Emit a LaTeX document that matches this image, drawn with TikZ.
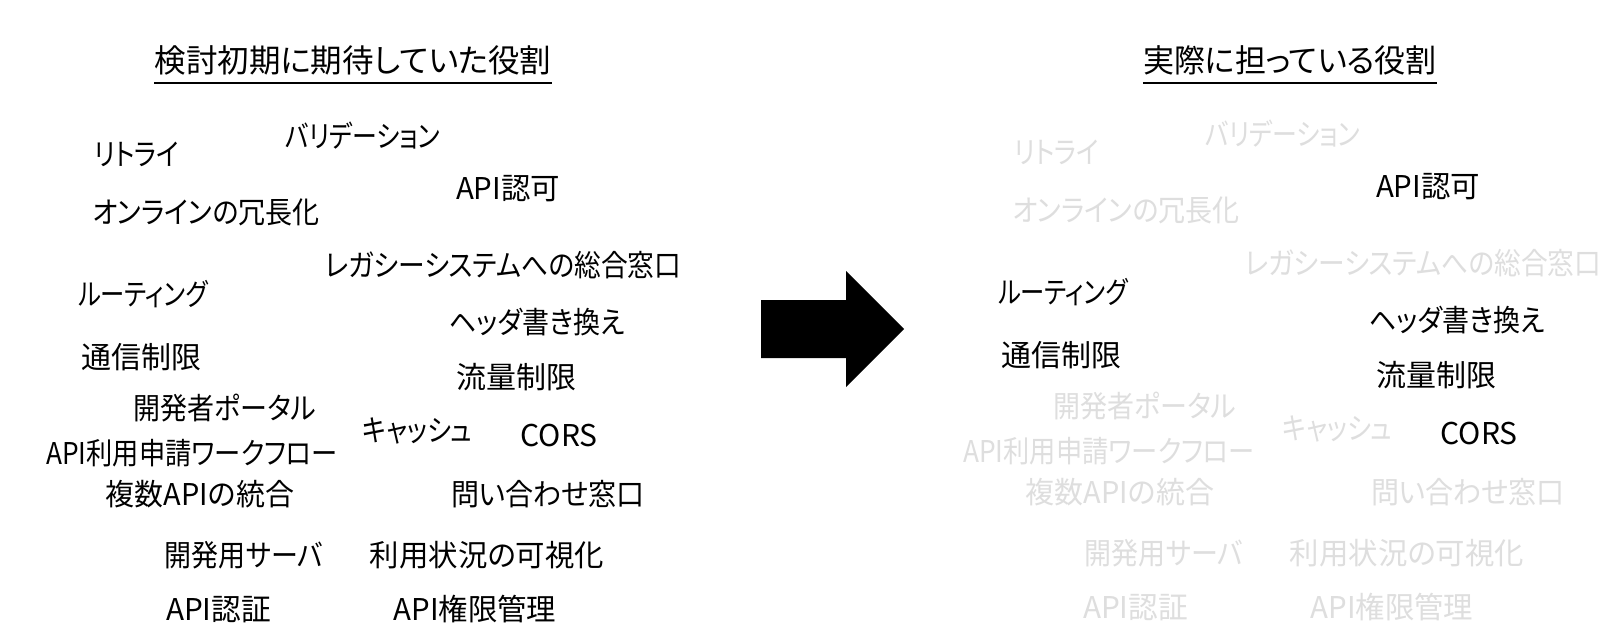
\documentclass[tikz,border=0pt]{standalone}
\usepackage{graphicx}
\usepackage{fontspec}
\setmainfont{Noto Sans CJK JP}[RawFeature=+palt]
\definecolor{dimgray}{gray}{0.87}
\newcommand\hsq[2]{\scalebox{#1}[1]{#2}}
\begin{document}
\begin{tikzpicture}[x=1pt,y=-1pt,
  lbl/.style={inner sep=0pt,anchor=center,font=\fontsize{30}{36}\selectfont},
  faint/.style={lbl,text=dimgray},
  ttl/.style={inner sep=0pt,anchor=center,font=\fontsize{32}{38}\selectfont}]
\useasboundingbox[fill=white] (0,0) rectangle (1609,638);
% titles
\node[ttl] (t1) at (353,60) {\hsq{0.985}{検討初期に期待していた役割}};
\node[ttl] (t2) at (1290,60) {\hsq{0.97}{実際に担っている役割}};
\draw[line width=2pt] (t1.west |- 0,83) -- (t1.east |- 0,83);
\draw[line width=2pt] (t2.west |- 0,83) -- (t2.east |- 0,83);
% left
\node[lbl] (l1) at (136.5,154) {\hsq{0.85}{リトライ}};
\node[lbl] (l2) at (363,135.5) {\hsq{0.83}{バリデーション}};
\node[lbl] (l3) at (508,189) {\hsq{0.98}{API認可}};
\node[lbl] (l4) at (206,212) {\hsq{0.90}{オンラインの冗長化}};
\node[lbl] (l5) at (503,265) {\hsq{0.89}{レガシーシステムへの総合窓口}};
\node[lbl] (l6) at (143,294.5) {\hsq{0.81}{ルーティング}};
\node[lbl] (l7) at (537,322) {\hsq{0.90}{ヘッダ書き換え}};
\node[lbl] (l8) at (141.5,357) {通信制限};
\node[lbl] (l9) at (516,377.5) {流量制限};
\node[lbl] (l10) at (225,408) {\hsq{0.90}{開発者ポータル}};
\node[lbl] (l11) at (417.5,431) {\hsq{0.85}{キャッシュ}};
\node[lbl] (l12) at (559,435) {CORS};
\node[lbl] (l13) at (192,453.5) {\hsq{0.875}{API利用申請ワークフロー}};
\node[lbl] (l14) at (200,494.5) {\hsq{0.965}{複数APIの統合}};
\node[lbl] (l15) at (548,494.5) {\hsq{0.935}{問い合わせ窓口}};
\node[lbl] (l16) at (244,555) {\hsq{0.90}{開発用サーバ}};
\node[lbl] (l17) at (487,555) {\hsq{0.98}{利用状況の可視化}};
\node[lbl] (l18) at (218.5,609.5) {\hsq{0.99}{API認証}};
\node[lbl] (l19) at (475,609.5) {\hsq{0.98}{API権限管理}};
% arrow
\fill (761,300) -- (846,300) -- (846,271) -- (904,329) -- (846,387) -- (846,358) -- (761,358) -- cycle;
% right
\begin{scope}[shift={(920,-2)}]
\node[faint] (r1) at (136.5,154) {\hsq{0.85}{リトライ}};
\node[faint] (r2) at (363,135.5) {\hsq{0.83}{バリデーション}};
\node[lbl] (r3) at (508,189) {\hsq{0.98}{API認可}};
\node[faint] (r4) at (206,212) {\hsq{0.90}{オンラインの冗長化}};
\node[faint] (r5) at (503,265) {\hsq{0.89}{レガシーシステムへの総合窓口}};
\node[lbl] (r6) at (143,294.5) {\hsq{0.81}{ルーティング}};
\node[lbl] (r7) at (537,322) {\hsq{0.90}{ヘッダ書き換え}};
\node[lbl] (r8) at (141.5,357) {通信制限};
\node[lbl] (r9) at (516,377.5) {流量制限};
\node[faint] (r10) at (225,408) {\hsq{0.90}{開発者ポータル}};
\node[faint] (r11) at (417.5,431) {\hsq{0.85}{キャッシュ}};
\node[lbl] (r12) at (559,435) {CORS};
\node[faint] (r13) at (189,453.5) {\hsq{0.875}{API利用申請ワークフロー}};
\node[faint] (r14) at (200,494.5) {\hsq{0.965}{複数APIの統合}};
\node[faint] (r15) at (548,494.5) {\hsq{0.935}{問い合わせ窓口}};
\node[faint] (r16) at (244,555) {\hsq{0.90}{開発用サーバ}};
\node[faint] (r17) at (487,555) {\hsq{0.98}{利用状況の可視化}};
\node[faint] (r18) at (215.5,609.5) {\hsq{0.99}{API認証}};
\node[faint] (r19) at (472,609.5) {\hsq{0.98}{API権限管理}};
\end{scope}
\end{tikzpicture}
\end{document}
